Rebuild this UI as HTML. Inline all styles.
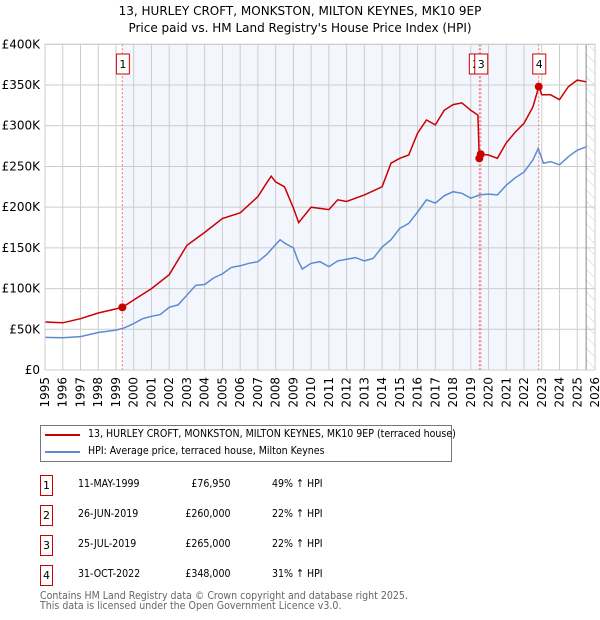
<!DOCTYPE html>
<html><head><meta charset="utf-8"><style>
body{margin:0;background:#fff;font-family:"DejaVu Sans","Liberation Sans",sans-serif;}
#wrap{position:relative;width:600px;height:620px;overflow:hidden}
.t{position:absolute;font-size:12px;color:#000;white-space:nowrap}
.c{transform:scaleX(0.86);transform-origin:left center}
.cr{transform:scaleX(0.86);transform-origin:right center}
svg text{font-family:"DejaVu Sans","Liberation Sans",sans-serif}
</style></head><body><div id="wrap">
<svg id="svg" width="600" height="620" style="position:absolute;left:0;top:0"></svg>
</div>
<script>
const hpiYears=[1995,1996,1997,1998,1999,1999.5,2000,2000.5,2001,2001.5,2002,2002.5,2003,2003.5,2004,2004.5,2005,2005.5,2006,2006.5,2007,2007.5,2008,2008.25,2008.5,2009,2009.25,2009.5,2010,2010.5,2011,2011.5,2012,2012.5,2013,2013.5,2014,2014.5,2015,2015.5,2016,2016.5,2017,2017.5,2018,2018.5,2019,2019.5,2020,2020.5,2021,2021.5,2022,2022.5,2022.8,2023.1,2023.5,2024,2024.5,2025,2025.5];
const hpiValues=[40,39.5,41,46,49,52,57,63,66,68,77,80,92,104,105,113,118,126,128,131,133,142,154,160,156,150,135,124,131,133,127,134,136,138,134,137,151,160,174,180,194,209,205,214,219,217,211,215,216,215,227,236,243,258,272,254,256,252,262,270,274];
const priceYears=[1995,1996,1997,1998,1999,1999.36,2000,2001,2002,2003,2004,2005,2006,2007,2007.5,2007.75,2008,2008.5,2009,2009.3,2010,2011,2011.5,2012,2013,2014,2014.5,2015,2015.5,2016,2016.5,2017,2017.5,2018,2018.5,2019,2019.4,2019.48,2019.56,2020,2020.5,2021,2021.5,2022,2022.5,2022.83,2023,2023.5,2024,2024.5,2025,2025.5];
const priceValues=[59,58,63,70,75,76.95,86,100,117,153,169,186,193,213,230,238,231,225,199,181,200,197,209,207,215,225,254,260,264,291,307,301,319,326,328,319,313,260,265,264,260,279,292,303,323,348,338,338,332,348,356,354];
const saleYears=[1999.36,2019.48,2019.56,2022.83];
const saleValues=[76.95,260,265,348];
const saleLabels=["1","2","3","4"];
const yTicks=[0,50,100,150,200,250,300,350,400];
const yTickLabels=["£0","£50K","£100K","£150K","£200K","£250K","£300K","£350K","£400K"];
const xTicks=[1995,1996,1997,1998,1999,2000,2001,2002,2003,2004,2005,2006,2007,2008,2009,2010,2011,2012,2013,2014,2015,2016,2017,2018,2019,2020,2021,2022,2023,2024,2025,2026];

const L=45,R=595,T=44.3,B=370;
const x=v=>L+(v-1995)*(R-L)/31;
const y=v=>B-v*(B-T)/400;
const svg=document.getElementById('svg');
const NS='http://www.w3.org/2000/svg';
function mk(tag,attrs,parent){const e=document.createElementNS(NS,tag);for(const k in attrs)e.setAttribute(k,attrs[k]);(parent||svg).appendChild(e);return e;}

let e=mk('rect',{x:x(saleYears[0]),y:T,width:x(saleYears[3])-x(saleYears[0]),height:B-T,fill:'#eef3fc',opacity:0.7});

const defs=mk('defs',{});
const pat=mk('pattern',{id:'hatch',width:8,height:8,patternUnits:'userSpaceOnUse',patternTransform:'rotate(-45)'},defs);
mk('line',{x1:0,y1:0,x2:0,y2:8,stroke:'#ccc','stroke-width':1},pat);
e=mk('rect',{x:x(2025.5),y:T,width:R-x(2025.5),height:B-T,fill:'url(#hatch)'});

xTicks.forEach(t=>{let g=mk('line',{x1:x(t),x2:x(t),y1:T,y2:B,stroke:'#ccc','stroke-width':1});

let tx=mk('text',{x:0,y:0,'font-size':12,'text-anchor':'end',transform:`translate(${x(t)+4},${B+7}) rotate(-90)`});tx.textContent=t;
});
yTicks.forEach((t,i)=>{let g=mk('line',{x1:L,x2:R,y1:y(t),y2:y(t),stroke:'#ccc','stroke-width':1});

let tx=mk('text',{x:40,y:y(t)+4,'font-size':12,'text-anchor':'end'});tx.textContent=yTickLabels[i];
});
e=mk('line',{x1:x(2025.5),x2:x(2025.5),y1:T,y2:B,stroke:'#888','stroke-width':1});

saleYears.forEach(s=>{let l=mk('line',{x1:x(s),x2:x(s),y1:T,y2:B,stroke:'#f07070','stroke-width':1,'stroke-dasharray':'2,2'});
});
function path(xs,vs){return xs.map((v,i)=>(i?'L':'M')+x(v).toFixed(1)+','+y(vs[i]).toFixed(1)).join('');}
e=mk('path',{d:path(hpiYears,hpiValues),fill:'none',stroke:'#5b8bd0','stroke-width':1.5});

e=mk('path',{d:path(priceYears,priceValues),fill:'none',stroke:'#cc0000','stroke-width':1.5});

saleYears.forEach((s,i)=>{let c=mk('circle',{cx:x(s),cy:y(saleValues[i]),r:4,fill:'#cc0000'});

let bx=x(s)-(i==1?10:6);
let r=mk('rect',{x:bx,y:54,width:13,height:20,fill:'#fff',stroke:'#cc0000','stroke-width':1});

let t=mk('text',{x:bx+6.5,y:68,'font-size':11,'text-anchor':'middle'});t.textContent=saleLabels[i];
});
e=mk('rect',{x:L,y:T,width:R-L,height:B-T,fill:'none',stroke:'#ccc'});

</script>
<div class="t" style="left:0;width:600px;text-align:center;top:3px;font-size:12px;line-height:17px">13, HURLEY CROFT, MONKSTON, MILTON KEYNES, MK10 9EP<br>Price paid vs. HM Land Registry's House Price Index (HPI)</div>
<div style="position:absolute;left:40px;top:425px;width:410px;height:35px;border:1px solid #777">
 <div style="position:absolute;left:4px;top:8px;width:35px;height:2px;background:#cc0000"></div>
 <div class="t c" style="left:47px;top:1px;font-size:11px">13, HURLEY CROFT, MONKSTON, MILTON KEYNES, MK10 9EP (terraced house)</div>
 <div style="position:absolute;left:4px;top:25px;width:35px;height:2px;background:#5b8bd0"></div>
 <div class="t c" style="left:47px;top:18px;font-size:11px">HPI: Average price, terraced house, Milton Keynes</div>
</div>
<div id="tbl"></div>
<script>
const rows=[["1","11-MAY-1999","£76,950","49% ↑ HPI"],["2","26-JUN-2019","£260,000","22% ↑ HPI"],["3","25-JUL-2019","£265,000","22% ↑ HPI"],["4","31-OCT-2022","£348,000","31% ↑ HPI"]];
const w=document.getElementById('wrap');
rows.forEach((r,i)=>{const top=475+i*30;
let d=document.createElement('div');d.style.cssText=`position:absolute;left:40px;top:${top}px;width:11px;height:19px;border:1px solid #cc0000;font-size:11px;text-align:center;line-height:19px`;d.textContent=r[0];

w.appendChild(d);
const cols=[[78,'left',r[1]],[230,'right',r[2]],[272,'left',r[3]]];
cols.forEach(c=>{let s=document.createElement('div');s.className='t '+(c[1]=='left'?'c':'cr');s.style.fontSize='11px';s.style.top=(top+2)+'px';
if(c[1]=='left')s.style.left=c[0]+'px';else{s.style.right=(600-c[0])+'px';}
s.textContent=c[2];

w.appendChild(s);});});
</script>
<div class="t c" style="left:40px;top:591px;font-size:11px;color:#666;line-height:10px">Contains HM Land Registry data © Crown copyright and database right 2025.<br>This data is licensed under the Open Government Licence v3.0.</div>
</body></html>
